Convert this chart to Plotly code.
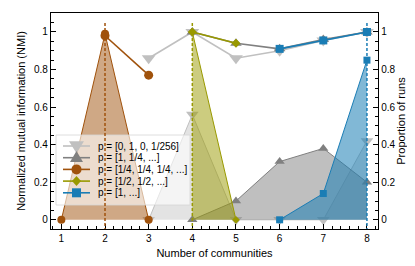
import plotly.graph_objects as go

# ---------------- data ----------------
labels = ["p = [0, 1, 0, 1/256]", "p = [1, 1/4, ...]", "p = [1/4, 1/4, 1/4, ...]",
          "p = [1/2, 1/2, ...]", "p = [1, ...]"]

# series 1: light grey, triangle-down
lg_x_nmi = [3, 4, 5, 6, 7, 8]
lg_nmi = [0.86, 1.0, 0.86, 0.90, 0.955, 1.0]
lg_x_prop = [3, 4, 5, 6, 7, 8]
lg_prop = [0.0, 0.56, 0.0, 0.0, 0.0, 0.42]

# series 2: dark grey, triangle-up
dg_x_nmi = [4, 5, 6, 7, 8]
dg_nmi = [1.0, 0.94, 0.91, 0.96, 1.0]
dg_x_prop = [4, 5, 6, 7, 8]
dg_prop = [0.0, 0.10, 0.31, 0.38, 0.20]

# series 3: brown, circle
br_x_nmi = [2, 3]
br_nmi = [0.98, 0.77]
br_x_prop = [1, 2, 3]
br_prop = [0.0, 0.99, 0.0]

# series 4: olive, diamond
ol_x_nmi = [4, 5]
ol_nmi = [1.0, 0.94]
ol_x_prop = [4, 5]
ol_prop = [1.0, 0.0]

# series 5: blue, square
bl_x_nmi = [6, 7, 8]
bl_nmi = [0.91, 0.955, 1.0]
bl_x_prop = [6, 7, 8]
bl_prop = [0.0, 0.14, 0.85]

# true number of communities (dashed verticals)
true_k = [2, 4, 8]
true_k_series = [2, 3, 4]  # index of series colour

x_ticks = [1, 2, 3, 4, 5, 6, 7, 8]
y_ticks = [0, 0.2, 0.4, 0.6, 0.8, 1]
y_tick_text = ["0", "0.2", "0.4", "0.6", "0.8", "1"]

# ---------------- styles ----------------
colors = ["#c0c0c0", "#808080", "#a0520c", "#999900", "#1a7db5"]
fills = ["rgba(192,192,192,0.45)", "rgba(128,128,128,0.5)", "rgba(160,82,12,0.5)",
         "rgba(153,153,0,0.5)", "rgba(26,125,181,0.55)"]
symbols = ["triangle-down", "triangle-up", "circle", "diamond", "square"]
sizes = [12, 10, 9, 7, 8]

series = [
    (lg_x_nmi, lg_nmi, lg_x_prop, lg_prop),
    (dg_x_nmi, dg_nmi, dg_x_prop, dg_prop),
    (br_x_nmi, br_nmi, br_x_prop, br_prop),
    (ol_x_nmi, ol_nmi, ol_x_prop, ol_prop),
    (bl_x_nmi, bl_nmi, bl_x_prop, bl_prop),
]

FONT = "Liberation Sans, Arial, sans-serif"
W, H = 415, 266
ML, MR, MT, MB = 43, 45, 5, 45
PW, PH = W - ML - MR, H - MT - MB


def px(xp):
    return (xp - ML) / PW


def py(yp):
    return (H - MB - yp) / PH


fig = go.Figure()

# NMI lines (left axis)
for i, (xn, yn, xp, yp) in enumerate(series):
    fig.add_trace(go.Scatter(
        x=xn, y=yn, mode="lines+markers", name=labels[i],
        line=dict(color=colors[i], width=1.6),
        marker=dict(symbol=symbols[i], size=sizes[i], color=colors[i]),
        yaxis="y", showlegend=False,
    ))

# Proportion of runs (right axis), filled
for i, (xn, yn, xp, yp) in enumerate(series):
    fig.add_trace(go.Scatter(
        x=xp, y=yp, mode="lines+markers", name=labels[i],
        line=dict(color=colors[i], width=1),
        fill="tozeroy", fillcolor=fills[i],
        marker=dict(symbol=symbols[i], size=sizes[i] - 1, color=colors[i]),
        yaxis="y2", showlegend=False,
    ))

shapes = []
annotations = []

# ---- legend (drawn by hand so that the compact row spacing matches) ----
LX0, LX1, LY0, LY1 = 48, 182, 127, 197
shapes.append(dict(type="rect", xref="paper", yref="paper",
                   x0=px(LX0), x1=px(LX1), y0=py(LY1), y1=py(LY0),
                   fillcolor="rgba(255,255,255,0.6)", line=dict(color="#d6d6d6", width=0.8),
                   layer="above"))
row0, drow = 138.0, 11.7
sx0, sx1, mx = 55, 82, 68.5
msz = [(15, 12), (13, 11), (10, 10), (9, 10), (9, 9)]
for i in range(5):
    yr = row0 + i * drow
    shapes.append(dict(type="line", xref="paper", yref="paper",
                       x0=px(sx0), x1=px(sx1), y0=py(yr), y1=py(yr),
                       line=dict(color=colors[i], width=1.6), layer="above"))
    w, h = msz[i]
    if symbols[i] == "triangle-down":
        pts = [(mx - w / 2, yr - h * 0.4), (mx + w / 2, yr - h * 0.4), (mx, yr + h * 0.6)]
    elif symbols[i] == "triangle-up":
        pts = [(mx - w / 2, yr + h * 0.4), (mx + w / 2, yr + h * 0.4), (mx, yr - h * 0.6)]
    elif symbols[i] == "diamond":
        pts = [(mx - w / 2, yr), (mx, yr - h / 2), (mx + w / 2, yr), (mx, yr + h / 2)]
    elif symbols[i] == "square":
        pts = [(mx - w / 2, yr - h / 2), (mx + w / 2, yr - h / 2),
               (mx + w / 2, yr + h / 2), (mx - w / 2, yr + h / 2)]
    else:
        pts = None
    if pts is None:
        shapes.append(dict(type="circle", xref="paper", yref="paper",
                           x0=px(mx - w / 2), x1=px(mx + w / 2),
                           y0=py(yr + h / 2), y1=py(yr - h / 2),
                           fillcolor=colors[i], line=dict(width=0), layer="above"))
    else:
        path = "M" + " L".join(f"{px(a):.5f},{py(b):.5f}" for a, b in pts) + " Z"
        shapes.append(dict(type="path", xref="paper", yref="paper", path=path,
                           fillcolor=colors[i], line=dict(width=0), layer="above"))
    annotations.append(dict(xref="paper", yref="paper", x=px(88), y=py(yr),
                            xanchor="left", yanchor="middle", showarrow=False,
                            text=labels[i], font=dict(size=10, family=FONT, color="black")))

# dashed verticals at the true number of communities
for k, si in zip(true_k, true_k_series):
    shapes.append(dict(type="line", xref="x", yref="y", x0=k, x1=k, y0=-0.06, y1=1.05,
                       line=dict(color=colors[si], width=1.5, dash="3px,2px"), layer="above"))

axis_common = dict(showline=True, linecolor="black", linewidth=1.3, ticks="inside",
                   ticklen=5, tickwidth=1, tickcolor="black", showgrid=False, zeroline=False,
                   tickfont=dict(size=10, color="black", family=FONT))

fig.update_layout(
    width=W, height=H,
    margin=dict(l=ML, r=MR, t=MT, b=MB),
    paper_bgcolor="white", plot_bgcolor="white",
    font=dict(family=FONT, color="black"),
    shapes=shapes, annotations=annotations,
    xaxis=dict(range=[0.763, 8.253], tickvals=x_ticks, mirror=True,
               title=dict(text="Number of communities", font=dict(size=11), standoff=6),
               minor=dict(dtick=0.2, ticks="inside", ticklen=3, tickcolor="black"),
               **axis_common),
    yaxis=dict(range=[-0.049, 1.101], tickvals=y_ticks, ticktext=y_tick_text,
               title=dict(text="Normalized mutual information (NMI)", font=dict(size=11), standoff=6),
               minor=dict(dtick=0.05, ticks="inside", ticklen=3, tickcolor="black"),
               **axis_common),
    yaxis2=dict(range=[-0.049, 1.101], tickvals=y_ticks, ticktext=y_tick_text,
                overlaying="y", side="right",
                title=dict(text="Proportion of runs", font=dict(size=11), standoff=1),
                minor=dict(dtick=0.05, ticks="inside", ticklen=3, tickcolor="black"),
                **axis_common),
    showlegend=False,
)

fig.write_html("out.html")
